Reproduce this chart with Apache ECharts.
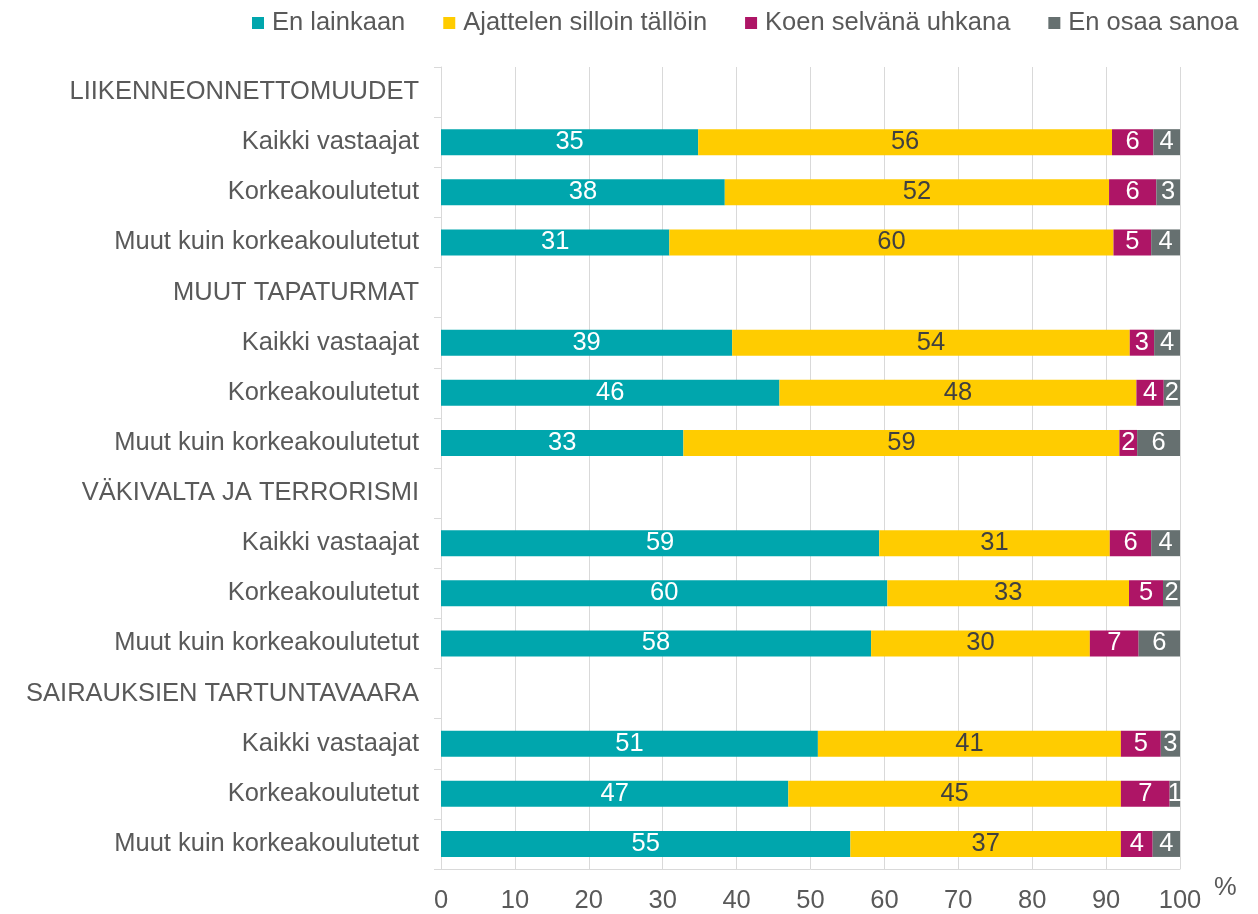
<!DOCTYPE html>
<html>
<head>
<meta charset="utf-8">
<script src="https://cdn.jsdelivr.net/npm/echarts@6/dist/echarts.min.js"></script>
<style>
html,body{margin:0;padding:0;background:#fff;}
#chart{width:1258px;height:914px;}
</style>
</head>
<body>
<div id="chart"></div>
<script>
const categories = [
  'LIIKENNEONNETTOMUUDET', 'Kaikki vastaajat', 'Korkeakoulutetut', 'Muut kuin korkeakoulutetut',
  'MUUT TAPATURMAT', 'Kaikki vastaajat', 'Korkeakoulutetut', 'Muut kuin korkeakoulutetut',
  'VÄKIVALTA JA TERRORISMI', 'Kaikki vastaajat', 'Korkeakoulutetut', 'Muut kuin korkeakoulutetut',
  'SAIRAUKSIEN TARTUNTAVAARA', 'Kaikki vastaajat', 'Korkeakoulutetut', 'Muut kuin korkeakoulutetut'
];
const seriesNames = ['En lainkaan', 'Ajattelen silloin tällöin', 'Koen selvänä uhkana', 'En osaa sanoa'];
const enLainkaan = [null, 34.8, 38.4, 30.9, null, 39.4, 45.8, 32.8, null, 59.3, 60.4, 58.2, null, 51.0, 47.0, 55.4];
const ajattelen  = [null, 56.0, 52.0, 60.1, null, 53.8, 48.3, 59.0, null, 31.2, 32.7, 29.6, null, 41.0, 45.0, 36.6];
const koen       = [null, 5.6, 6.4, 5.1, null, 3.3, 3.7, 2.4, null, 5.6, 4.6, 6.6, null, 5.4, 6.6, 4.3];
const enOsaa     = [null, 3.6, 3.2, 3.9, null, 3.5, 2.2, 5.8, null, 3.9, 2.3, 5.6, null, 2.6, 1.4, 3.7];

const colors = ['#00A6AD', '#FFCC00', '#AE1566', '#667070'];
const labelColors = ['#ffffff', '#404040', '#ffffff', '#ffffff'];
const FONT = "'Liberation Sans', Arial, sans-serif";
const FS = 25.5;
const dataSets = [enLainkaan, ajattelen, koen, enOsaa];

const chart = echarts.init(document.getElementById('chart'), null, {renderer: 'canvas'});
chart.setOption({
  animation: false,
  backgroundColor: '#ffffff',
  color: colors,
  textStyle: {fontFamily: FONT},
  legend: {
    left: 247,
    top: 5,
    itemWidth: 12,
    itemHeight: 12,
    itemGap: 38,
    icon: 'rect',
    textStyle: {fontSize: FS, color: '#595959', fontFamily: FONT, padding: [0, 0, 0, 3]},
    data: seriesNames
  },
  grid: {left: 441, right: 78, top: 67, bottom: 44, containLabel: false},
  xAxis: {
    type: 'value',
    min: 0,
    max: 100,
    interval: 10,
    name: '%',
    nameLocation: 'end',
    nameGap: 34,
    nameTextStyle: {fontSize: FS, color: '#595959', fontFamily: FONT, verticalAlign: 'top', padding: [6, 0, 0, 0]},
    axisLine: {show: true, lineStyle: {color: '#D9D9D9', width: 1}},
    axisTick: {show: false},
    axisLabel: {fontSize: FS, color: '#595959', fontFamily: FONT, margin: 19},
    splitLine: {show: true, lineStyle: {color: '#D9D9D9', width: 1}}
  },
  yAxis: {
    type: 'category',
    inverse: true,
    data: categories,
    axisLine: {show: true, lineStyle: {color: '#D9D9D9', width: 1}},
    axisTick: {show: true, length: 7, lineStyle: {color: '#D9D9D9'}},
    axisLabel: {fontSize: FS, color: '#595959', fontFamily: FONT, margin: 22}
  },
  series: seriesNames.map((name, i) => ({
    name: name,
    type: 'bar',
    stack: 'total',
    barWidth: 26,
    data: dataSets[i],
    itemStyle: {color: colors[i]},
    label: {
      show: true,
      position: 'inside',
      color: labelColors[i],
      fontSize: FS,
      fontFamily: FONT,
      formatter: p => (p.value == null ? '' : String(Math.round(p.value)))
    }
  }))
});
</script>
</body>
</html>
